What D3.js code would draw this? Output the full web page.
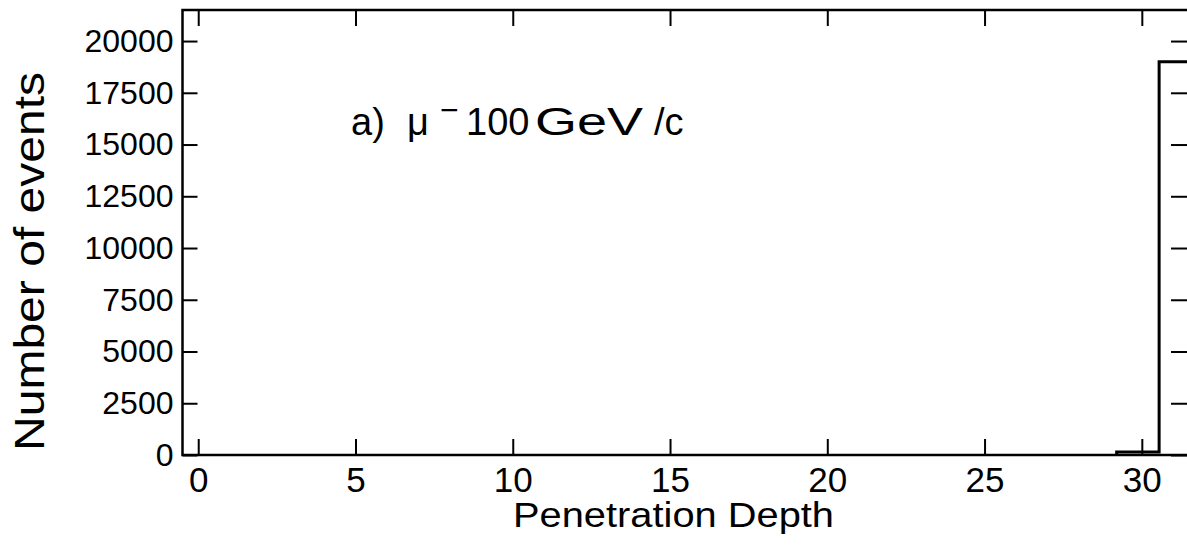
<!DOCTYPE html>
<html><head><meta charset="utf-8">
<script src="https://cdn.jsdelivr.net/npm/d3@7"></script>
<style>
html,body{margin:0;padding:0;background:#fff;}
svg{display:block;font-family:"Liberation Sans",Arial,Helvetica,sans-serif;}
</style></head><body>
<svg id="chart" width="1187" height="553"></svg>
<script>
// Penetration depth histogram, 100 GeV/c negative muons
const binLow = [29.2, 30.55];
const binHigh = [30.55, 31.5];
const binCounts = [150, 19000];
const xTickValues = [0, 5, 10, 15, 20, 25, 30];
const yTickValues = [0, 2500, 5000, 7500, 10000, 12500, 15000, 17500, 20000];
const xDomain = [-0.5, 31.5];
const yDomain = [0, 21500];

const svg = d3.select("#chart");
const x = d3.scaleLinear().domain(xDomain).range([182.5, 1189]);
const y = d3.scaleLinear().domain(yDomain).range([455, 10]);

function styleAxis(g) {
  g.select(".domain").remove();
  g.selectAll(".tick line").attr("stroke", "#000").attr("stroke-width", 2);
  g.selectAll(".tick text").attr("fill", "#000");
}

// bottom axis with labels, ticks pointing inward
svg.append("g").attr("transform", `translate(0,${y(0)})`)
  .call(d3.axisBottom(x).tickValues(xTickValues).tickSize(-16).tickPadding(12).tickFormat(d3.format("d")))
  .call(styleAxis)
  .call(g => g.selectAll(".tick text").attr("font-size", 35).attr("font-family", "Liberation Sans, Arial, sans-serif"));

// top axis, ticks only
svg.append("g").attr("transform", `translate(0,${y(yDomain[1])})`)
  .call(d3.axisTop(x).tickValues(xTickValues).tickSize(-16).tickFormat(""))
  .call(styleAxis);

// left axis with labels
svg.append("g").attr("transform", `translate(${x(xDomain[0])},0)`)
  .call(d3.axisLeft(y).tickValues(yTickValues).tickSize(-15).tickPadding(9).tickFormat(d3.format("d")))
  .call(styleAxis)
  .call(g => g.selectAll(".tick text").attr("font-size", 32).attr("font-family", "Liberation Sans, Arial, sans-serif"));

// right axis, ticks only
svg.append("g").attr("transform", `translate(${x(xDomain[1])},0)`)
  .call(d3.axisRight(y).tickValues(yTickValues).tickSize(-18).tickFormat(""))
  .call(styleAxis);

// frame
svg.append("rect")
  .attr("x", x(xDomain[0])).attr("y", y(yDomain[1]))
  .attr("width", x(xDomain[1]) - x(xDomain[0]))
  .attr("height", y(0) - y(yDomain[1]))
  .attr("fill", "none").attr("stroke", "#000").attr("stroke-width", 2.5);

// histogram outline as a step path
const pts = [[binLow[0], 0]];
binCounts.forEach((c, i) => { pts.push([binLow[i], c]); pts.push([binHigh[i], c]); });
pts.push([binHigh[binHigh.length - 1], 0]);
svg.append("path")
  .attr("d", d3.line().x(d => x(d[0])).y(d => y(d[1]))(pts))
  .attr("fill", "none").attr("stroke", "#000").attr("stroke-width", 3)
  .attr("stroke-linejoin", "miter");

// axis titles
svg.append("text")
  .attr("x", 513).attr("y", 527)
  .attr("font-size", 35)
  .attr("textLength", 321).attr("lengthAdjust", "spacingAndGlyphs")
  .text("Penetration Depth");

svg.append("text")
  .attr("transform", "translate(43.5,451) rotate(-90)")
  .attr("font-size", 43)
  .attr("textLength", 379).attr("lengthAdjust", "spacingAndGlyphs")
  .text("Number of events");

// panel annotation
const ann = svg.append("g").attr("font-size", 38);
ann.append("text").attr("x", 351).attr("y", 135).text("a)");
ann.append("text").attr("x", 407).attr("y", 135).text("μ");
ann.append("text").attr("x", 440).attr("y", 121).attr("font-size", 32).text("−");
ann.append("text").attr("x", 466).attr("y", 135).text("100");
ann.append("text").attr("x", 535).attr("y", 135)
  .attr("textLength", 108).attr("lengthAdjust", "spacingAndGlyphs").text("GeV");
ann.append("text").attr("x", 654).attr("y", 135).text("/c");
</script>
</body></html>
